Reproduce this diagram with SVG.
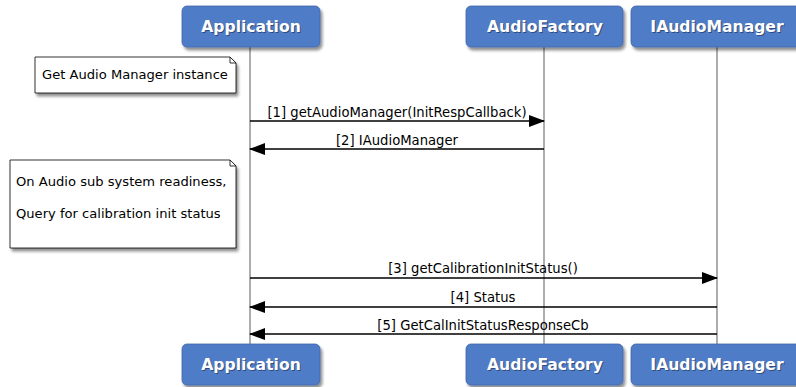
<svg xmlns="http://www.w3.org/2000/svg" width="796" height="387" viewBox="0 0 796 387">
<style>
.actor{fill:#4f7cc6;stroke:#3f66a8;stroke-width:0.8}
.atext{font-family:"DejaVu Sans",sans-serif;font-weight:bold;font-size:15.6px;fill:#fff;text-anchor:middle}
.ashadow{font-family:"DejaVu Sans",sans-serif;font-weight:bold;font-size:15.6px;fill:#1a2a50;text-anchor:middle;opacity:0.6}
.life{stroke:#999;stroke-width:1.6}
.msg{stroke:#000;stroke-width:1.5;fill:none}
.mtext{font-family:"DejaVu Sans",sans-serif;font-size:13.2px;fill:#000;text-anchor:middle}
.note{fill:#fff;stroke:#000;stroke-width:0.8}
.ntext{font-family:"DejaVu Sans",sans-serif;font-size:13.1px;fill:#000}
</style>
<defs>
<filter id="sh" x="-10%" y="-10%" width="130%" height="140%">
<feGaussianBlur in="SourceAlpha" stdDeviation="1.5"/>
<feOffset dx="2" dy="3" result="b"/>
<feComponentTransfer><feFuncA type="linear" slope="0.45"/></feComponentTransfer>
<feMerge><feMergeNode/><feMergeNode in="SourceGraphic"/></feMerge>
</filter>
<marker id="ah" markerWidth="16" markerHeight="12" refX="15" refY="6" orient="auto" markerUnits="userSpaceOnUse">
<path d="M0,0 L16,6 L0,12 z" fill="#000"/>
</marker>
</defs>
<rect width="796" height="387" fill="#fff"/>
<g id="lifelines">
<line class="life" x1="250" y1="47" x2="250" y2="345"/>
<line class="life" x1="544" y1="47" x2="544" y2="345"/>
<line class="life" x1="717" y1="47" x2="717" y2="345"/>
</g>
<g id="actor-application-top">
<rect class="actor" x="182" y="6" width="138" height="41" rx="5" filter="url(#sh)"/>
<text class="ashadow" x="252" y="33">Application</text>
<text class="atext" x="251" y="32">Application</text>
</g>
<g id="actor-audiofactory-top">
<rect class="actor" x="466" y="6" width="157" height="41" rx="5" filter="url(#sh)"/>
<text class="ashadow" x="546" y="33">AudioFactory</text>
<text class="atext" x="545" y="32">AudioFactory</text>
</g>
<g id="actor-iaudiomanager-top">
<rect class="actor" x="631" y="6" width="175" height="41" rx="5" filter="url(#sh)"/>
<text class="ashadow" x="718" y="33">IAudioManager</text>
<text class="atext" x="717" y="32">IAudioManager</text>
</g>
<g id="actor-application-bottom">
<rect class="actor" x="182" y="344" width="138" height="41" rx="5" filter="url(#sh)"/>
<text class="ashadow" x="252" y="371">Application</text>
<text class="atext" x="251" y="370">Application</text>
</g>
<g id="actor-audiofactory-bottom">
<rect class="actor" x="466" y="344" width="157" height="41" rx="5" filter="url(#sh)"/>
<text class="ashadow" x="546" y="371">AudioFactory</text>
<text class="atext" x="545" y="370">AudioFactory</text>
</g>
<g id="actor-iaudiomanager-bottom">
<rect class="actor" x="631" y="344" width="175" height="41" rx="5" filter="url(#sh)"/>
<text class="ashadow" x="718" y="371">IAudioManager</text>
<text class="atext" x="717" y="370">IAudioManager</text>
</g>
<g id="note-1">
<path class="note" d="M35,57 H230 L236,63 V93 H35 Z" filter="url(#sh)"/>
<path d="M230,57 V63 H236" fill="none" stroke="#000" stroke-width="0.8"/>
<text class="ntext" x="42" y="79">Get Audio Manager instance</text>
</g>
<g id="note-2">
<path class="note" d="M10,160 H230 L236,166 V248 H10 Z" filter="url(#sh)"/>
<path d="M230,160 V166 H236" fill="none" stroke="#000" stroke-width="0.8"/>
<text class="ntext" x="16" y="186">On Audio sub system readiness,</text>
<text class="ntext" x="16" y="218">Query for calibration init status</text>
</g>
<g id="connectors">
<line class="msg" x1="250" y1="121" x2="544" y2="121" marker-end="url(#ah)"/>
<text class="mtext" x="397" y="117">[1] getAudioManager(InitRespCallback)</text>
<line class="msg" x1="544" y1="149" x2="250" y2="149" marker-end="url(#ah)"/>
<text class="mtext" x="397" y="145">[2] IAudioManager</text>
<line class="msg" x1="250" y1="278" x2="717" y2="278" marker-end="url(#ah)"/>
<text class="mtext" x="483" y="273">[3] getCalibrationInitStatus()</text>
<line class="msg" x1="717" y1="307" x2="250" y2="307" marker-end="url(#ah)"/>
<text class="mtext" x="483" y="302">[4] Status</text>
<line class="msg" x1="717" y1="334" x2="250" y2="334" marker-end="url(#ah)"/>
<text class="mtext" x="483" y="330">[5] GetCalInitStatusResponseCb</text>
</g>
</svg>
